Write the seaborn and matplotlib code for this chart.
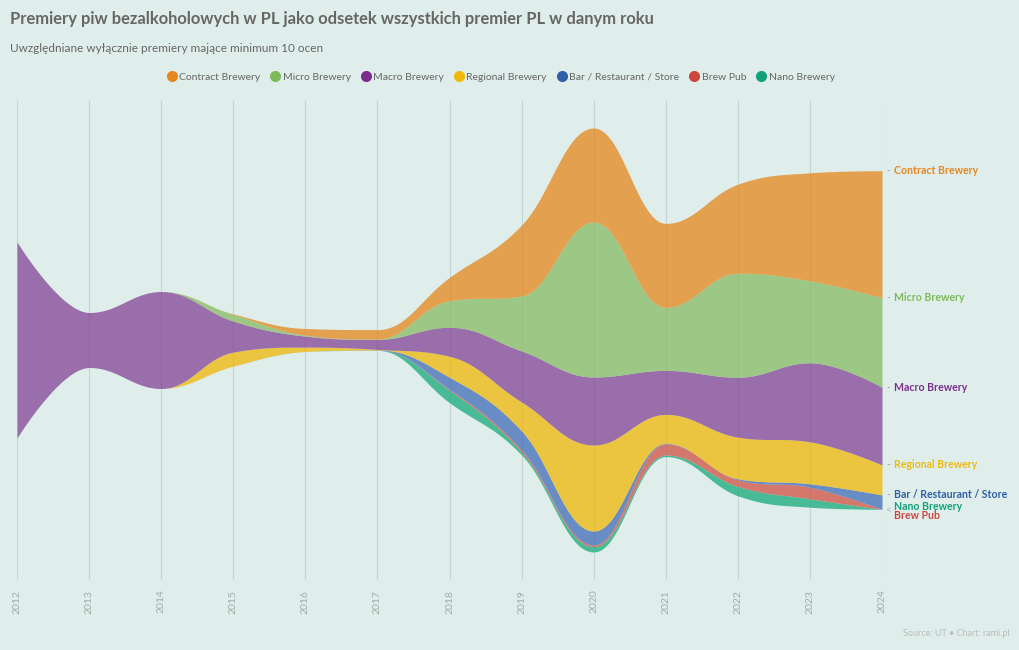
import numpy as np
import matplotlib
matplotlib.use('Agg')
import matplotlib.pyplot as plt
from matplotlib.lines import Line2D
import seaborn as sns

# data (share of all PL premieres)
years = list(range(2012, 2025))
contract = [0, 0, 0, 0.03, 0.33, 0.47, 1.17, 3.55, 4.70, 4.20, 4.45, 5.40, 6.35]
micro = [0, 0, 0, 0.33, 0.05, 0.02, 1.33, 2.75, 7.75, 3.15, 5.20, 4.10, 4.48]
macro = [9.80, 2.75, 4.85, 1.55, 0.55, 0.50, 1.45, 2.55, 3.40, 2.20, 3.00, 3.95, 3.88]
regional = [0, 0, 0, 0.70, 0.22, 0.03, 1.05, 1.45, 4.30, 1.45, 2.08, 2.10, 1.50]
bar_rest = [0, 0, 0, 0, 0, 0.01, 0.60, 0.95, 0.70, 0.03, 0.05, 0.17, 0.72]
brew_pub = [0, 0, 0, 0, 0, 0, 0.05, 0.10, 0.08, 0.55, 0.33, 0.58, 0]
nano = [0, 0, 0, 0, 0, 0.01, 0.62, 0.15, 0.27, 0.08, 0.47, 0.42, 0]

names = ['Contract Brewery', 'Micro Brewery', 'Macro Brewery', 'Regional Brewery',
         'Bar / Restaurant / Store', 'Brew Pub', 'Nano Brewery']
colors = ['#e5861a', '#87bb62', '#834394', '#f0b607', '#406bb7', '#d05144', '#15ab7a']
label_colors = ['#e6871f', '#7dba5a', '#7b2d8e', '#f0b90a', '#2e5fa8', '#cd463c', '#14a078']

bg = '#e0eeeb'


def hc_spline(x, y, steps=40, smoothing=1.5):
    # highcharts-like spline: bezier with clamped control points
    x = np.asarray(x, float)
    y = np.asarray(y, float)
    m = len(x)
    lc = np.column_stack([x, y]).copy()
    rc = np.column_stack([x, y]).copy()
    d = smoothing + 1
    for i in range(1, m - 1):
        lx = (smoothing * x[i] + x[i - 1]) / d
        ly = (smoothing * y[i] + y[i - 1]) / d
        rx = (smoothing * x[i] + x[i + 1]) / d
        ry = (smoothing * y[i] + y[i + 1]) / d
        corr = ((ry - ly) * (rx - x[i])) / (rx - lx) + y[i] - ry
        ly += corr
        ry += corr
        if ly > y[i - 1] and ly > y[i]:
            ly = max(y[i - 1], y[i]); ry = 2 * y[i] - ly
        elif ly < y[i - 1] and ly < y[i]:
            ly = min(y[i - 1], y[i]); ry = 2 * y[i] - ly
        if ry > y[i + 1] and ry > y[i]:
            ry = max(y[i + 1], y[i]); ly = 2 * y[i] - ry
        elif ry < y[i + 1] and ry < y[i]:
            ry = min(y[i + 1], y[i]); ly = 2 * y[i] - ry
        lc[i] = (lx, ly)
        rc[i] = (rx, ry)
    t = np.linspace(0, 1, steps)[:-1]
    xs, ys = [], []
    for i in range(1, m):
        p0 = np.array([x[i - 1], y[i - 1]]); p1 = rc[i - 1]; p2 = lc[i]; p3 = np.array([x[i], y[i]])
        pts = ((1 - t)[:, None] ** 3 * p0 + 3 * ((1 - t) ** 2 * t)[:, None] * p1
               + 3 * ((1 - t) * t ** 2)[:, None] * p2 + (t ** 3)[:, None] * p3)
        xs.append(pts[:, 0]); ys.append(pts[:, 1])
    xs.append([x[-1]]); ys.append([y[-1]])
    return np.concatenate(xs), np.concatenate(ys)


sns.set_theme(style='white', rc={'figure.facecolor': bg, 'axes.facecolor': bg})
plt.rcParams['font.family'] = ['Lato', 'DejaVu Sans']

fig = plt.figure(figsize=(10.2, 6.5), dpi=100)
ax = fig.add_axes([17 / 1020, 1 - 580 / 650, (882 - 17) / 1020, 480 / 650])

series = [contract, micro, macro, regional, bar_rest, brew_pub, nano]
arr = np.array(series, dtype=float)
total = arr.sum(axis=0)
base = -total / 2

# stack bottom-up: Nano, Brew Pub, Bar, Regional, Macro, Micro, Contract
lower = base.copy()
tops = {}
for idx in range(len(series) - 1, -1, -1):
    upper = lower + arr[idx]
    xs, ylo = hc_spline(years, lower)
    _, yhi = hc_spline(years, upper)
    ax.fill_between(xs, ylo, yhi, color=colors[idx], alpha=0.75, lw=0, zorder=2)
    tops[idx] = upper[-1]
    lower = upper

ax.set_xlim(2012, 2024)
ax.set_ylim(-12, 12)
ax.set_xticks(years)
ax.set_xticklabels([str(y) for y in years], rotation=90, color='#a3aba9', fontsize=7.5)
ax.tick_params(axis='x', length=0, pad=7)
ax.set_yticks([])
ax.grid(axis='x', color='#c6d4d2', lw=0.8, zorder=0)
for s in ax.spines.values():
    s.set_visible(False)

# end labels
offsets = {5: -4.5, 6: 2.0}
for idx, name in enumerate(names):
    dy = offsets.get(idx, 0)
    ax.annotate(name, xy=(2024, tops[idx]), xytext=(9, dy), textcoords='offset points',
                va='center', ha='left', fontsize=7.6, fontweight='bold',
                color=label_colors[idx], annotation_clip=False)
    if idx not in offsets:
        ax.annotate('-', xy=(2024, tops[idx]), xytext=(3, 0), textcoords='offset points',
                    va='center', ha='left', fontsize=7, color='#999999', annotation_clip=False)
ax.annotate('<', xy=(2024, tops[6]), xytext=(2, -1), textcoords='offset points',
            va='center', ha='left', fontsize=7, color='#aaaaaa', annotation_clip=False)

fig.text(10 / 1020, 1 - 19 / 650, 'Premiery piw bezalkoholowych w PL jako odsetek wszystkich premier PL w danym roku',
         fontsize=11.9, fontweight='bold', color='#666666', va='center', ha='left')
fig.text(10 / 1020, 1 - 48 / 650, 'Uwzględniane wyłącznie premiery mające minimum 10 ocen',
         fontsize=8.5, color='#666666', va='center', ha='left')

handles = [Line2D([], [], marker='o', ls='', markersize=8, markerfacecolor=c, markeredgewidth=0)
           for c in label_colors]
fig.legend(handles, names, loc='center', bbox_to_anchor=(0.491, 1 - 77 / 650), ncol=7,
           frameon=False, fontsize=7.5, labelcolor='#666666', handletextpad=0.25,
           columnspacing=1.0, handlelength=0.9)

fig.text(1010 / 1020, 1 - 633 / 650, 'Source: UT • Chart: rami.pl', fontsize=6.5,
         color='#bbbbbb', ha='right', va='center')

fig.savefig('out.png', dpi=100, facecolor=bg)
